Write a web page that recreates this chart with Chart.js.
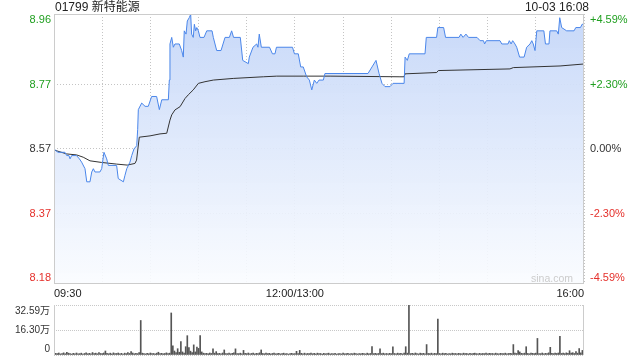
<!DOCTYPE html>
<html><head><meta charset="utf-8">
<script src="https://cdn.jsdelivr.net/npm/chart.js@4.4.0/dist/chart.umd.min.js"></script>
<style>
html,body{margin:0;padding:0;background:#fff;width:640px;height:360px;overflow:hidden;}
#wrap{position:relative;width:640px;height:360px;}
canvas{position:absolute;left:0;}
#c1{top:0;} #c2{top:300px;}
.t{position:absolute;font-family:"Liberation Sans",Arial,"Noto Sans CJK SC",sans-serif;color:#222;white-space:nowrap;}
</style></head><body>
<div id="wrap">
<canvas id="c1" width="640" height="300" style="width:640px;height:300px"></canvas>
<canvas id="c2" width="640" height="60" style="width:640px;height:60px"></canvas>
<div class="t" style="left:55px;top:0px;font-size:12px;line-height:15px;">01799 新特能源</div>
<div class="t" style="right:51px;top:0px;font-size:12px;line-height:15px;">10-03 16:08</div>
<div class="t" style="right:67px;top:272px;font-size:10.5px;line-height:12px;color:#cccccc;">sina.com</div>
</div>
<script>
// ---- data ----
const timeTickMinutes = [0,30,60,90,120,150,180,210,240,270,300,330];
const timeLabels = ['09:30','','','','','12:00/13:00','','','','','','16:00'];
const priceTicks = [8.177, 8.3735, 8.57, 8.7665, 8.963];
const priceTickLabels = ['8.18','8.37','8.57','8.77','8.96'];
const pctTickLabels = ['-4.59%','-2.30%','0.00%','+2.30%','+4.59%'];
const volTicks = [0, 16.295, 32.59];
const volTickLabels = [['0',''], '16.30万', ['', '32.59万']];

const priceMinutes = [0,2.5,6.8,7.9,9.3,10,11,14,15.8,17.2,19.3,20.4,22.4,23.5,24.5,25.5,28.6,29.7,31.1,32.8,33.8,39,40,43.2,44.2,45.3,47.3,48.4,49.8,51.5,52.1,52.5,54.6,56.7,58.7,60.8,63.9,65.6,67.1,71.2,71.8,72.2,73.3,74.3,75.3,78,79.5,80.5,81.1,82.2,83,84.2,85.1,85.7,86.7,87.4,88.2,88.9,89.9,90.9,93.4,95.1,98.4,99.2,101.3,104,106.5,109.2,110.6,111.8,116,117.5,121,121.6,123.9,126.2,127,127.8,129.1,134.2,136,137.6,138.5,148.5,149.7,152.1,153.6,155.2,157.3,159,160.5,162.1,163.6,165,167.7,168.7,178.1,181.2,195.5,198,200.5,202.4,204.2,206.1,209.2,211.1,218,218.6,220,221.2,231,231.8,238.2,239,242.6,243.8,252.2,253.3,254.7,256.5,258.1,263.4,265.3,267.4,268.1,269.2,277.7,278.8,282.7,283.5,284.6,285.6,287,288.1,289.9,292.7,294.3,296.4,297.5,298.4,299.5,300.6,305,306,308.2,308.8,313,314,314.9,316.1,319.2,323.8,324.9,327.8,328.8,330];
const priceValues = [8.57,8.56,8.56,8.55,8.55,8.54,8.55,8.55,8.54,8.53,8.51,8.47,8.47,8.50,8.51,8.50,8.50,8.51,8.56,8.54,8.52,8.52,8.48,8.47,8.49,8.51,8.53,8.55,8.57,8.58,8.63,8.69,8.71,8.70,8.70,8.73,8.73,8.69,8.72,8.72,8.78,8.89,8.91,8.88,8.89,8.89,8.87,8.85,8.93,8.92,8.96,8.97,8.98,8.92,8.91,8.95,8.93,8.94,8.93,8.91,8.91,8.93,8.93,8.91,8.87,8.87,8.91,8.91,8.93,8.91,8.91,8.84,8.83,8.85,8.88,8.89,8.88,8.92,8.88,8.88,8.86,8.86,8.88,8.88,8.86,8.86,8.82,8.82,8.79,8.78,8.75,8.78,8.77,8.78,8.78,8.80,8.80,8.80,8.80,8.82,8.84,8.80,8.77,8.76,8.76,8.77,8.77,8.85,8.84,8.86,8.86,8.91,8.91,8.94,8.94,8.91,8.91,8.92,8.91,8.92,8.91,8.91,8.90,8.90,8.89,8.90,8.90,8.89,8.89,8.90,8.89,8.90,8.89,8.88,8.85,8.85,8.88,8.89,8.90,8.89,8.87,8.93,8.93,8.89,8.89,8.93,8.93,8.92,8.97,8.94,8.93,8.93,8.94,8.94,8.95,8.95];

const avgMinutes = [0,7.9,14.1,18.2,22.4,29.7,39,45.6,50.4,51.4,53.1,59.8,66,70.2,72.2,73.3,75.3,78.5,81.6,83.6,86.7,89.9,94,99.2,111.6,130.3,138.7,155.2,171.9,215.4,217.9,218.6,238.3,239.3,283.9,286,315.1,330];
const avgValues = [8.567,8.555,8.552,8.545,8.534,8.529,8.524,8.521,8.526,8.536,8.606,8.610,8.616,8.618,8.658,8.674,8.689,8.699,8.724,8.735,8.750,8.770,8.775,8.780,8.785,8.790,8.792,8.792,8.792,8.790,8.790,8.799,8.803,8.809,8.814,8.818,8.823,8.829];

// volume per minute (万), index = minutes since 09:30
const volumes = [
1.8,1.1,0.9,1.3,0.7,1.0,1.4,0.8,1.8,1.2,
0.9,0.6,1.1,0.8,1.3,0.7,0.9,1.2,0.6,1.0,
1.4,0.8,1.1,0.7,1.6,0.9,1.2,0.8,1.5,1.0,
0.9,1.3,2.6,1.1,0.8,1.2,0.7,1.4,0.9,1.0,
1.3,0.8,1.1,0.6,1.2,0.9,1.5,1.0,2.2,1.3,
0.8,1.1,0.9,1.6,22.5,1.2,0.9,0.7,1.1,0.8,
1.3,0.9,1.0,0.7,1.2,1.8,0.9,1.1,0.8,1.0,
1.4,0.9,1.2,27.4,6.0,2.6,1.5,4.1,1.8,8.8,
2.0,1.3,5.4,12.6,4.8,2.5,1.6,6.6,2.0,5.2,
4.3,12.6,2.0,1.2,0.9,1.1,0.8,1.3,1.0,4.0,
1.2,2.2,0.9,1.1,0.8,1.3,3.3,1.0,0.9,1.2,
0.8,1.1,1.4,4.0,1.0,0.9,1.2,0.8,3.0,1.1,
0.9,1.3,0.8,1.0,1.2,0.7,1.1,0.9,1.4,3.3,
1.0,0.8,1.2,0.9,1.1,0.7,1.0,1.3,0.8,0.9,
1.1,0.7,0.9,1.2,0.8,1.0,0.6,0.9,1.1,0.8,
1.0,2.4,0.9,3.0,1.1,0.8,1.2,0.7,1.0,0.9,
1.3,0.8,1.1,0.7,1.2,0.9,1.0,0.6,1.1,0.8,
0.9,1.2,0.7,1.0,0.8,1.1,0.6,0.9,1.0,0.7,
1.2,0.8,0.9,1.1,0.7,1.0,0.8,1.2,0.9,0.7,
1.0,0.8,1.1,0.9,0.7,1.2,0.8,1.0,5.5,0.9,
1.1,0.8,1.0,4.0,0.9,1.2,0.7,1.0,0.8,1.1,
0.9,5.4,1.0,0.8,1.2,0.9,1.1,0.7,1.3,5.4,
1.2,32.59,0.9,1.1,0.8,1.3,1.0,0.7,1.2,0.9,
1.1,0.8,6.8,1.0,0.9,1.2,0.8,1.1,0.9,23.4,
1.0,0.8,1.2,0.9,1.1,0.7,1.0,0.8,1.2,0.9,
1.0,0.7,1.1,0.9,0.8,1.2,0.9,1.0,0.7,1.1,
0.8,1.0,1.2,0.9,0.7,1.1,0.8,1.0,0.9,1.2,
0.8,1.1,0.9,1.0,0.7,1.2,0.9,0.8,1.1,1.0,
0.9,1.2,0.8,1.0,1.1,0.9,6.8,1.3,1.0,2.8,
2.0,1.1,0.9,1.2,5.4,1.0,0.8,1.3,1.1,0.9,
1.2,10.8,1.0,0.9,1.3,0.8,1.1,1.0,1.4,5.0,
1.1,0.9,1.2,1.0,1.3,12.1,1.0,1.2,0.9,1.4,
1.1,2.8,1.3,1.5,1.0,2.2,1.2,4.2,1.4,3.0,
8.2];

// ---- styling ----
const FONT = '"Liberation Sans", Arial, "Noto Sans CJK SC", sans-serif';
Chart.defaults.font.family = FONT;
Chart.defaults.font.size = 11;
Chart.defaults.color = '#222';
const GREEN = '#1f9f1f', RED = '#e5302b', DARK = '#333333';
const tickColors = [RED, RED, DARK, GREEN, GREEN];
const GRID = '#c4c4c4';

const framePlugin = {
  id: 'frame',
  afterDraw(chart) {
    const {ctx, chartArea: a} = chart;
    ctx.save();
    ctx.strokeStyle = '#cccccc';
    ctx.lineWidth = 1;
    ctx.setLineDash([]);
    ctx.strokeRect(Math.round(a.left) + 0.5, Math.round(a.top) + 0.5,
      Math.round(a.right - a.left) - 1, Math.round(a.bottom - a.top) - 1);
    ctx.restore();
  }
};
const sidePlugin = {
  id: 'sides',
  afterDraw(chart) {
    const {ctx, chartArea: a} = chart;
    ctx.save();
    ctx.strokeStyle = '#cccccc';
    ctx.lineWidth = 1;
    ctx.beginPath();
    ctx.moveTo(Math.round(a.left) + 0.5, a.top); ctx.lineTo(Math.round(a.left) + 0.5, a.bottom);
    ctx.moveTo(Math.round(a.right) - 0.5, a.top); ctx.lineTo(Math.round(a.right) - 0.5, a.bottom);
    ctx.stroke();
    ctx.restore();
  }
};

new Chart(document.getElementById('c1'), {
  type: 'line',
  data: {
    datasets: [
      {
        data: priceMinutes.map((m, i) => ({x: m, y: priceValues[i]})),
        borderColor: '#4a86ea',
        borderWidth: 1,
        pointRadius: 0,
        tension: 0,
        fill: 'start',
        backgroundColor: (c) => {
          const a = c.chart.chartArea;
          if (!a) return 'rgba(210,225,250,0.6)';
          const g = c.chart.ctx.createLinearGradient(0, a.top, 0, a.bottom);
          g.addColorStop(0, 'rgba(196,214,248,0.95)');
          g.addColorStop(1, 'rgba(250,252,255,0.9)');
          return g;
        }
      },
      {
        data: avgMinutes.map((m, i) => ({x: m, y: avgValues[i]})),
        borderColor: '#333333',
        borderWidth: 1,
        pointRadius: 0,
        tension: 0,
        fill: false
      }
    ]
  },
  options: {
    responsive: false,
    animation: false,
    layout: {padding: {top: 14, left: 0, right: 0, bottom: 0}},
    plugins: {legend: {display: false}, tooltip: {enabled: false}, filler: {drawTime: 'beforeDatasetsDraw'}},
    scales: {
      x: {
        type: 'linear', min: 0, max: 330,
        afterBuildTicks: s => { s.ticks = timeTickMinutes.map(v => ({value: v})); },
        afterFit: s => { s.height = 16; s.paddingLeft = 0; s.paddingRight = 0; },
        ticks: {callback: (v, i) => timeLabels[i], autoSkip: false, maxRotation: 0, minRotation: 0, align: 'inner', padding: 3, color: '#222', font: {size: 11}},
        grid: {color: GRID, drawTicks: false},
        border: {display: false, dash: [1, 2]}
      },
      y: {
        position: 'left', min: 8.1587, max: 8.9813,
        afterBuildTicks: s => { s.ticks = priceTicks.map(v => ({value: v})); },
        afterFit: s => { s.width = 54; s.paddingTop = 0; s.paddingBottom = 0; },
        ticks: {callback: (v, i) => priceTickLabels[i], autoSkip: false, padding: 3, color: c => tickColors[c.index], font: {size: 11}},
        grid: {color: c => (c.index === 0 || c.index === priceTicks.length - 1) ? 'rgba(0,0,0,0)' : GRID, drawTicks: false},
        border: {display: false, dash: [1, 2]}
      },
      y2: {
        position: 'right', min: 8.1587, max: 8.9813,
        afterBuildTicks: s => { s.ticks = priceTicks.map(v => ({value: v})); },
        afterFit: s => { s.width = 56; s.paddingTop = 0; s.paddingBottom = 0; },
        ticks: {callback: (v, i) => pctTickLabels[i], autoSkip: false, padding: 6, color: c => tickColors[c.index], font: {size: 11}},
        grid: {display: false, drawTicks: false},
        border: {display: false}
      }
    }
  },
  plugins: [framePlugin]
});

new Chart(document.getElementById('c2'), {
  type: 'bar',
  data: {
    datasets: [{
      data: volumes.map((v, i) => ({x: i, y: v})),
      backgroundColor: '#555555',
      barThickness: 1,
      borderWidth: 0
    }]
  },
  options: {
    responsive: false,
    animation: false,
    layout: {padding: {top: 5, left: 0, right: 56, bottom: 5}},
    plugins: {legend: {display: false}, tooltip: {enabled: false}},
    scales: {
      x: {type: 'linear', min: 0, max: 330, offset: false, display: false, grid: {offset: false}},
      y: {
        position: 'left', min: 0, max: 32.59,
        afterBuildTicks: s => { s.ticks = volTicks.map(v => ({value: v})); },
        afterFit: s => { s.width = 54; s.paddingTop = 0; s.paddingBottom = 0; },
        ticks: {callback: (v, i) => volTickLabels[i], autoSkip: false, padding: 4, color: '#333', font: {size: 10, lineHeight: 1.2}},
        grid: {color: '#c8c8c8', drawTicks: false},
        border: {display: false, dash: [1, 1]}
      }
    }
  },
  plugins: [sidePlugin]
});
</script>
</body></html>
